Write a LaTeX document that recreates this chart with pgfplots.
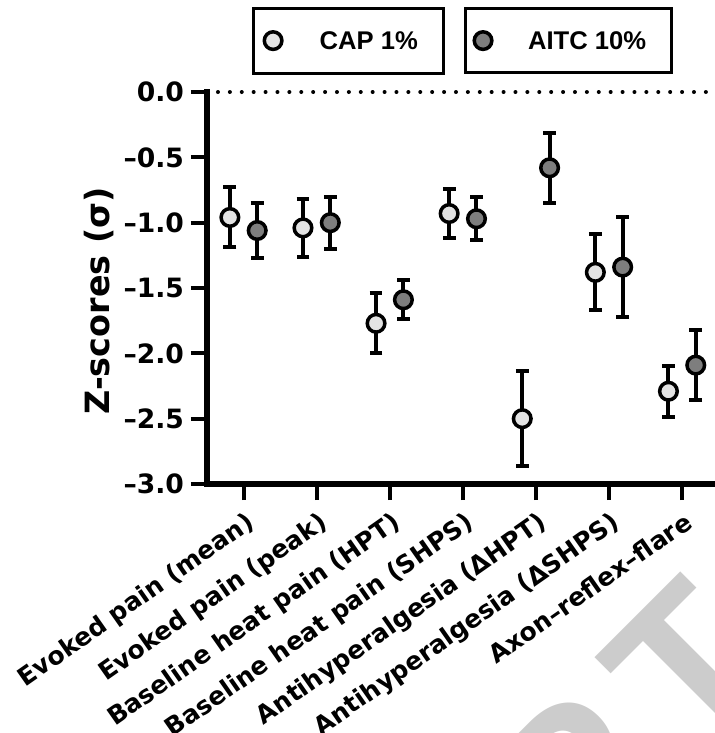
\documentclass[border=0pt]{standalone}
\usepackage{fontspec}
\setmainfont{DejaVu Sans}
\newfontfamily\legfont{Liberation Sans}
\newfontfamily\wmfont{Liberation Sans}
\usepackage{pgfplots}
\usepackage{pgfplotstable}
\pgfplotsset{compat=1.18}

\definecolor{capfill}{HTML}{E3E3E3}
\definecolor{aitcfill}{HTML}{7E7E7E}
\definecolor{wmgray}{HTML}{CCCCCC}

% CAP 1% (light) and AITC 10% (dark), x = category index -/+ offset
\pgfplotstableread{
x      y      e
-0.187 -0.96  0.23
0.813  -1.04  0.22
1.813  -1.77  0.23
2.813  -0.93  0.185
3.813  -2.50  0.365
4.813  -1.38  0.29
5.813  -2.29  0.195
}\capdata
\pgfplotstableread{
x      y      e
0.187  -1.06  0.21
1.187  -1.00  0.20
2.187  -1.59  0.15
3.187  -0.97  0.165
4.187  -0.58  0.27
5.187  -1.34  0.38
6.187  -2.09  0.27
}\aitcdata

\pgfplotsset{
  errbars/.style={only marks, mark=none, forget plot,
    error bars/.cd, y dir=both, y explicit,
    error bar style={draw=black, line width=2pt, solid},
    error mark options={draw=black, rotate=90, mark size=3.2pt, line width=2pt}},
  dots/.style={only marks, mark=*, mark size=4.4pt, forget plot,
    mark options={draw=black, line width=1.75pt, fill=#1}},
  basic/.style={scale only axis, width=254pt, height=196pt,
    xmin=-0.5, xmax=6.45, ymin=-3, ymax=0,
    at={(0,0)}, anchor=south west},
  leg/.style={legend style={anchor=north west, draw=black, line width=1.5pt,
    fill=white, inner xsep=0pt, inner ysep=10.7pt,
    font=\legfont\bfseries\fontsize{12.8}{15}\selectfont,
    nodes={inner sep=0pt, text height=9.2pt, text depth=0pt}}},
}

\begin{document}
\begin{tikzpicture}
\useasboundingbox (-103.5pt,-124.5pt) rectangle (254pt,242pt);

\node[rotate=45, anchor=base east, text=wmgray, inner sep=0pt,
  font=\wmfont\bfseries\fontsize{103}{103}\selectfont] at (288pt,-93pt) {MANUSCRIP\kern15pt T};

\begin{axis}[
  basic, leg,
  legend style={at={(0.088,1.2176)}},
  legend image code/.code={
    \path[draw=none] (0pt,-5.5pt) rectangle (33.25pt,5.5pt);
    \draw[#1] plot coordinates {(9.95pt,0pt)};},
  axis x line*=bottom, axis y line*=left,
  axis line style={line width=3pt, -, line cap=rect},
  clip=false,
  tick align=outside,
  major tick length=8pt,
  tick style={line width=2pt, black},
  ytick={-3,-2.5,-2,-1.5,-1,-0.5,0},
  yticklabels={–3.0,–2.5,–2.0,–1.5,–1.0,–0.5,0.0},
  yticklabel style={font=\bfseries\fontsize{13.3}{15}\selectfont},
  xtick={0,1,2,3,4,5,6},
  xticklabels={Evoked pain (mean),Evoked pain (peak),Baseline heat pain (HPT),Baseline heat pain (SHPS),Antihyperalgesia (ΔHPT),Antihyperalgesia (ΔSHPS),Axon–reflex–flare},
  xticklabel style={font=\bfseries\fontsize{12.5}{14}\selectfont, rotate=35,
    anchor=north east, inner sep=0pt, xshift=-2.5pt, yshift=-4.5pt},
  ylabel={Z-scores (σ)},
  ylabel style={font=\bfseries\fontsize{16.7}{19}\selectfont,
    at={(axis description cs:-0.2126,0.467)}, anchor=center},
]
\addplot[forget plot, black, line width=2pt, dash pattern=on 0pt off 5.95pt,
  line cap=round] coordinates {(-0.35,0) (6.45,0)};
\addplot[errbars] table[x=x, y=y, y error=e] {\capdata};
\addplot[errbars] table[x=x, y=y, y error=e] {\aitcdata};
\addplot[dots=capfill] table[x=x, y=y] {\capdata};
\addplot[dots=aitcfill] table[x=x, y=y] {\aitcdata};
\addlegendimage{only marks, mark=*, mark size=4.4pt,
  mark options={draw=black, line width=1.75pt, fill=capfill}}
\addlegendentry{CAP 1\%\kern12.75pt}
\end{axis}

\begin{axis}[
  basic, leg, hide axis,
  legend style={at={(0.506,1.2176)}},
  legend image code/.code={
    \path[draw=none] (0pt,-5.5pt) rectangle (31.25pt,5.5pt);
    \draw[#1] plot coordinates {(8.75pt,0pt)};},
]
\addlegendimage{only marks, mark=*, mark size=4.4pt,
  mark options={draw=black, line width=1.75pt, fill=aitcfill}}
\addlegendentry{AITC 10\%\kern12.6pt}
\end{axis}
\end{tikzpicture}
\end{document}
